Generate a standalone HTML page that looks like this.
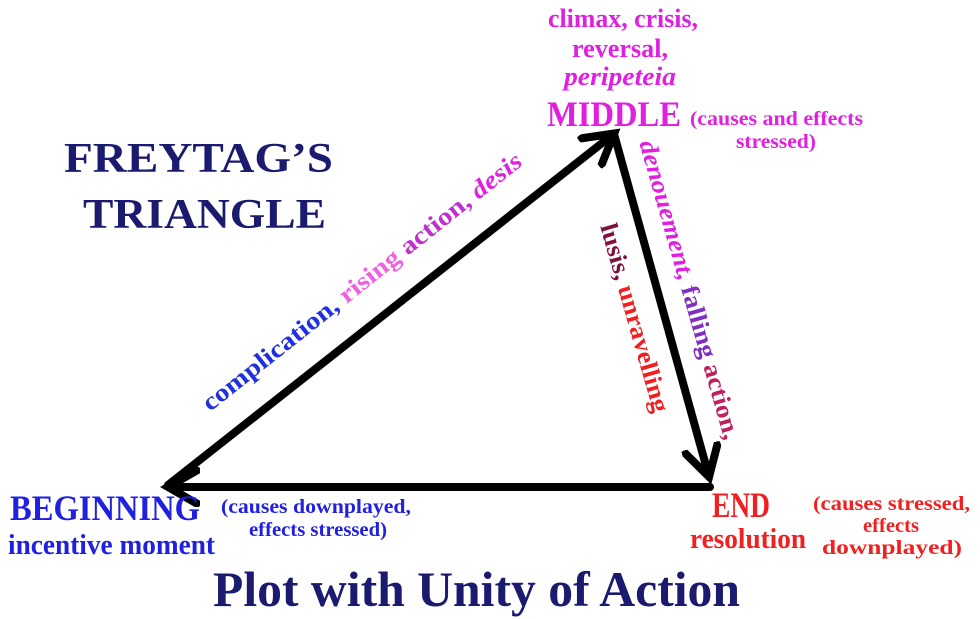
<!DOCTYPE html>
<html><head><meta charset="utf-8"><style>
html,body{margin:0;padding:0;background:#fff}
svg{display:block}
text{font-family:"Liberation Serif",serif;font-weight:bold}
</style></head><body>
<svg width="980" height="619" viewBox="0 0 980 619" xmlns="http://www.w3.org/2000/svg">
<defs>
<marker id="ah" markerWidth="5" markerHeight="5" refX="3.5" refY="2.5" orient="auto" markerUnits="strokeWidth">
<path d="M0,0.2 L4,2.5 L0,4.8" fill="none" stroke="#000" stroke-width="1"/>
</marker>
</defs>
<g stroke="#000" stroke-width="8" stroke-linecap="round" fill="none">
<line x1="168" y1="485" x2="611" y2="136" marker-end="url(#ah)"/>
<line x1="614" y1="134" x2="708" y2="473" marker-end="url(#ah)"/>
<line x1="710" y1="487" x2="172" y2="487" marker-end="url(#ah)"/>
</g>
<g fill="#e020e0" text-anchor="middle">
<text x="623" y="27" font-size="26" textLength="150" lengthAdjust="spacingAndGlyphs">climax, crisis,</text>
<text x="620" y="57" font-size="26" textLength="96" lengthAdjust="spacingAndGlyphs">reversal,</text>
<text x="620" y="85" font-size="26" font-style="italic" textLength="112" lengthAdjust="spacingAndGlyphs">peripeteia</text>
</g>
<text x="547" y="126" font-size="36" fill="#e020e0" textLength="134" lengthAdjust="spacingAndGlyphs">MIDDLE</text>
<text x="690" y="125" font-size="20" fill="#e020e0" textLength="173" lengthAdjust="spacingAndGlyphs">(causes and effects</text>
<text x="776" y="148" font-size="20" fill="#e020e0" text-anchor="middle" textLength="80" lengthAdjust="spacingAndGlyphs">stressed)</text>
<text x="64" y="172" font-size="42" fill="#1a1a6e" textLength="269" lengthAdjust="spacingAndGlyphs">FREYTAG’S</text>
<text x="83" y="228" font-size="42" fill="#1a1a6e" textLength="243" lengthAdjust="spacingAndGlyphs">TRIANGLE</text>
<text transform="translate(367,288) rotate(-38.3)" font-size="25" text-anchor="middle" textLength="400" lengthAdjust="spacingAndGlyphs"><tspan fill="#2030e0">complication, </tspan><tspan fill="#f060e0">rising </tspan><tspan fill="#c030d0">action, </tspan><tspan fill="#e020e0" font-style="italic">desis</tspan></text>
<text transform="translate(682,292) rotate(74)" font-size="25" text-anchor="middle" textLength="310" lengthAdjust="spacingAndGlyphs"><tspan fill="#e020e0" font-style="italic">denouement, </tspan><tspan fill="#8030c0">falling </tspan><tspan fill="#c02060">action,</tspan></text>
<text transform="translate(627,320) rotate(74)" font-size="25" text-anchor="middle" textLength="195" lengthAdjust="spacingAndGlyphs"><tspan fill="#801040">lusis, </tspan><tspan fill="#f02020">unravelling</tspan></text>
<text x="10" y="520" font-size="36" fill="#2020e0" textLength="190" lengthAdjust="spacingAndGlyphs">BEGINNING</text>
<text x="8" y="554" font-size="28" fill="#2020e0" textLength="207" lengthAdjust="spacingAndGlyphs">incentive moment</text>
<text x="221" y="513" font-size="20" fill="#2020e0" textLength="190" lengthAdjust="spacingAndGlyphs">(causes downplayed,</text>
<text x="318" y="536" font-size="20" fill="#2020e0" text-anchor="middle" textLength="138" lengthAdjust="spacingAndGlyphs">effects stressed)</text>
<text x="712" y="517" font-size="36" fill="#f02020" textLength="58" lengthAdjust="spacingAndGlyphs">END</text>
<text x="690" y="548" font-size="28" fill="#f02020" textLength="116" lengthAdjust="spacingAndGlyphs">resolution</text>
<text x="813" y="510" font-size="20" fill="#f02020" textLength="157" lengthAdjust="spacingAndGlyphs">(causes stressed,</text>
<text x="891" y="532" font-size="20" fill="#f02020" text-anchor="middle" textLength="56" lengthAdjust="spacingAndGlyphs">effects</text>
<text x="822" y="554" font-size="20" fill="#f02020" textLength="140" lengthAdjust="spacingAndGlyphs">downplayed)</text>
<text x="213" y="606" font-size="50" fill="#1a1a6e" textLength="527" lengthAdjust="spacingAndGlyphs">Plot with Unity of Action</text>
</svg>
</body></html>
